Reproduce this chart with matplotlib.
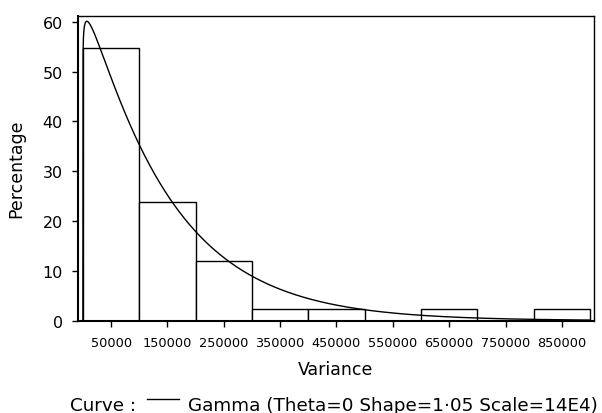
import math
import numpy as np
import matplotlib
matplotlib.use('Agg')
import matplotlib.pyplot as plt
from matplotlib.lines import Line2D

plt.rcParams['font.family'] = ['DejaVu Sans']

# histogram: bin midpoints (variance) and percentage of samples
midpoints = [50000, 150000, 250000, 350000, 450000, 550000, 650000, 750000, 850000]
percent = [54.76, 23.81, 11.90, 2.38, 2.38, 0.0, 2.38, 0.0, 2.38]
bin_width = 100000

# fitted gamma curve, as given in the caption
theta = 0.0
shape = 1.05
scale = 14e4

xticks = midpoints
yticks = [0, 10, 20, 30, 40, 50, 60]

W, H = 602, 414
fig = plt.figure(figsize=(W / 100, H / 100), dpi=100)
ax = fig.add_axes([78 / W, 1 - 321.7 / H, (594 - 78) / W, (321.7 - 16.7) / H])

ax.bar(midpoints, percent, width=bin_width, facecolor='white',
       edgecolor='black', linewidth=1.0, zorder=2)

xs = np.linspace(theta, 900000, 3000)
z = (xs - theta) / scale
pdf = z ** (shape - 1) * np.exp(-z) / (math.gamma(shape) * scale)
ax.plot(xs, pdf * bin_width * 100, color='black', linewidth=1.0, zorder=3)

ax.set_xlim(-8700, 907000)
ax.set_ylim(0, 61.2)
ax.set_xticks(xticks)
ax.set_xticklabels([str(v) for v in xticks], fontsize=9.3)
ax.set_yticks(yticks)
ax.set_yticklabels([str(v) for v in yticks], fontsize=11.5)
ax.tick_params(axis='x', length=4, width=1, pad=7)
ax.tick_params(axis='y', length=4, width=1, pad=7)

ax.spines['left'].set_linewidth(1.5)
ax.spines['bottom'].set_linewidth(1.5)
ax.spines['top'].set_linewidth(1.0)
ax.spines['right'].set_linewidth(1.0)

ax.set_xlabel('Variance', fontsize=12.5, labelpad=8)
ax.set_ylabel('Percentage', fontsize=12.5, labelpad=12)

# caption line below the axis
base = 1 - 411 / H
fig.text(70 / W, base, 'Curve :', fontsize=13.2, va='baseline', ha='left')
fig.add_artist(Line2D([147 / W, 179 / W], [1 - 400 / H, 1 - 400 / H],
                      transform=fig.transFigure, color='black', linewidth=1.0))
fig.text(188 / W, base, 'Gamma (Theta=%g Shape=1\u00b705 Scale=14E4)' % theta,
         fontsize=13.2, va='baseline', ha='left')

fig.savefig('out.png', dpi=100)
